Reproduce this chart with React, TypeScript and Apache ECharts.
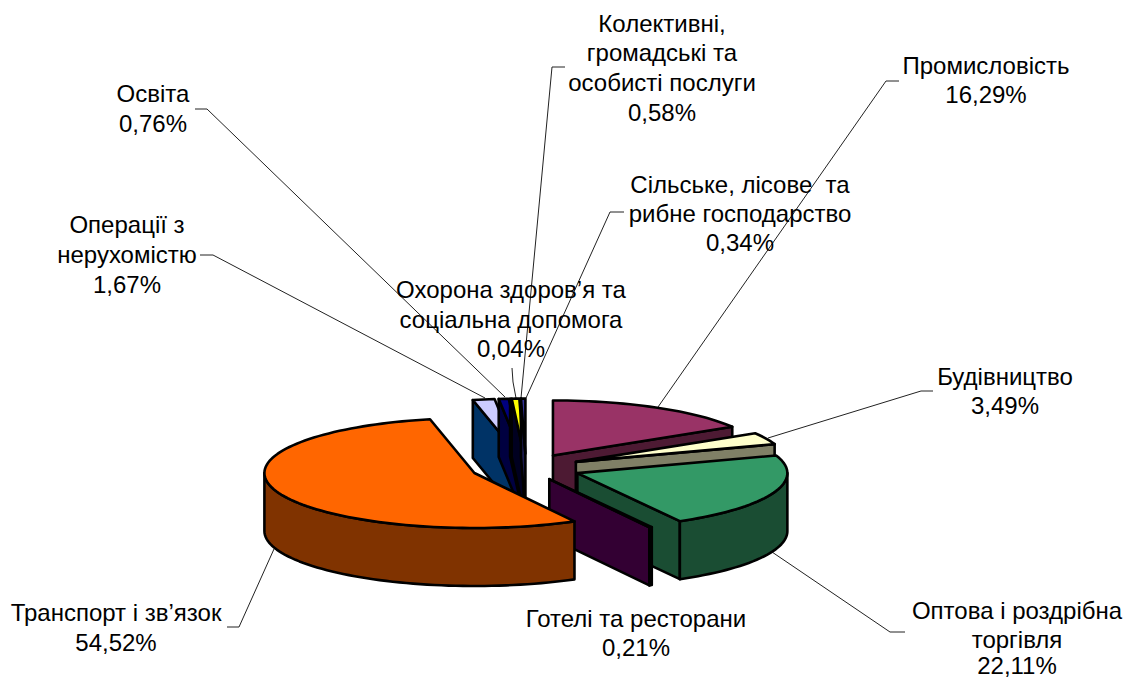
import React, { useEffect, useRef } from "react";
import * as echarts from "echarts";

const categories = [
  "Промисловість",
  "Будівництво",
  "Оптова і роздрібна торгівля",
  "Готелі та ресторани",
  "Транспорт і зв’язок",
  "Операції з нерухомістю",
  "Освіта",
  "Охорона здоров’я та соціальна допомога",
  "Колективні, громадські та особисті послуги",
  "Сільське, лісове та рибне господарство",
];
const values = [16.29, 3.49, 22.11, 0.21, 54.52, 1.67, 0.76, 0.04, 0.58, 0.34];
const topColors = ["#993366", "#FFFFCC", "#339966", "#660066", "#FF6600", "#CCCCFF", "#000080", "#3333AA", "#FFFF00", "#333399"];
const wallColors = ["#4D1A33", "#808066", "#1A4D33", "#330033", "#803300", "#003366", "#000040", "#1A1A55", "#000020", "#1A1A4D"];
const explosion = [0.262, 0.262, 0.262, 0.23, 0.262, 0.262, 0.262, 0.262, 0.262, 0.262];
// back-to-front painting order of the slices
const paintOrder = [5, 6, 7, 8, 9, 0, 1, 2, 3, 4];

const labelLines = [
  { lines: ["Колективні,", "громадські та", "особисті послуги", "0,58%"], x: 662, y: [23, 52, 82, 112] },
  { lines: ["Промисловість", "16,29%"], x: 986, y: [65, 94] },
  { lines: ["Сільське, лісове  та", "рибне господарство", "0,34%"], x: 740, y: [184, 213, 242] },
  { lines: ["Будівництво", "3,49%"], x: 1005, y: [376, 405] },
  { lines: ["Оптова і роздрібна", "торгівля", "22,11%"], x: 1017, y: [610, 639, 665] },
  { lines: ["Готелі та ресторани", "0,21%"], x: 636, y: [618, 647] },
  { lines: ["Транспорт і зв’язок", "54,52%"], x: 116, y: [612, 642] },
  { lines: ["Охорона здоров’я та", "соціальна допомога", "0,04%"], x: 511, y: [289, 319, 348] },
  { lines: ["Операції з", "нерухомістю", "1,67%"], x: 127, y: [224, 254, 284] },
  { lines: ["Освіта", "0,76%"], x: 153, y: [93, 123] },
];
const leaderLines = [
  [[899, 81], [886, 81], [658, 407]],
  [[933, 391], [921, 391], [768, 438]],
  [[905, 632], [890, 632], [772, 552]],
  [[227, 627], [239, 627], [274, 549]],
  [[200, 255], [213, 255], [485, 398]],
  [[195, 109], [207, 109], [505, 397]],
  [[512, 368], [513, 382], [516, 398]],
  [[565, 67], [552, 67], [521, 398]],
  [[624, 212], [610, 212], [526, 398]],
];

const CX = 526;
const CY = 468;
const RX = 210;
const RY = 55;
const DEPTH = 58;
const total = values.reduce((a, b) => a + b, 0);
const starts: number[] = [];
values.reduce((acc, v, i) => {
  starts[i] = acc;
  return acc + v;
}, 0);

const rad = (d: number) => (d * Math.PI) / 180;

function arc(cx: number, cy: number, from: number, to: number, dz = 0) {
  const pts: number[][] = [];
  const n = Math.max(1, Math.ceil((to - from) / 2));
  for (let i = 0; i <= n; i++) {
    const t = rad(from + ((to - from) * i) / n);
    pts.push([cx + RX * Math.sin(t), cy - RY * Math.cos(t) + dz]);
  }
  return pts;
}

const EDGE = { stroke: "#000", lineWidth: 2.6, lineJoin: "round" };

function renderSlice(_params: any, api: any) {
  const idx = api.value(0);
  const val = api.value(1);
  const from = (starts[idx] / total) * 360;
  const to = ((starts[idx] + val) / total) * 360;
  const mid = rad((from + to) / 2);
  const cx = CX + explosion[idx] * RX * Math.sin(mid);
  const cy = CY - explosion[idx] * RY * Math.cos(mid);
  const children: any[] = [];
  const poly = (points: number[][], fill: string) =>
    children.push({ type: "polygon", shape: { points }, style: { fill, ...EDGE } });
  const wall = wallColors[idx];
  const radial = (deg: number) => {
    const rim = arc(cx, cy, deg, deg)[0];
    poly([[cx, cy], rim, [rim[0], rim[1] + DEPTH], [cx, cy + DEPTH]], wall);
  };
  if (Math.sin(rad(from)) < 0) radial(from);
  if (Math.sin(rad(to)) > 0) radial(to);
  const a0 = Math.max(from, 90);
  const a1 = Math.min(to, 270);
  if (a1 > a0) {
    poly([...arc(cx, cy, a0, a1), ...arc(cx, cy, a0, a1, DEPTH).reverse()], wall);
  }
  poly([[cx, cy], ...arc(cx, cy, from, to)], topColors[idx]);
  return { type: "group", children };
}

export default function App() {
  const ref = useRef<HTMLDivElement>(null);
  useEffect(() => {
    const chart = echarts.init(ref.current!, undefined, { renderer: "svg" });
    const graphic: any[] = [];
    leaderLines.forEach((points) =>
      graphic.push({
        type: "polyline",
        z: 1,
        shape: { points },
        style: { stroke: "#222", lineWidth: 1, fill: "none" },
      })
    );
    labelLines.forEach((l) =>
      l.lines.forEach((text, i) =>
        graphic.push({
          type: "text",
          z: 5,
          x: l.x,
          y: l.y[i],
          style: {
            text,
            fill: "#000",
            font: '24px "Liberation Sans", Arial, sans-serif',
            align: "center",
            verticalAlign: "middle",
          },
        })
      )
    );
    chart.setOption({
      animation: false,
      backgroundColor: "#fff",
      graphic,
      series: [
        {
          type: "custom",
          coordinateSystem: "none",
          name: "Частка",
          z: 3,
          renderItem: renderSlice,
          dimensions: ["index", "value"],
          data: paintOrder.map((i) => ({ name: categories[i], value: [i, values[i]] })),
        },
      ],
    });
    return () => chart.dispose();
  }, []);
  return (
    <div
      ref={ref}
      style={{ position: "absolute", left: 0, top: 0, width: 1125, height: 677 }}
    />
  );
}
